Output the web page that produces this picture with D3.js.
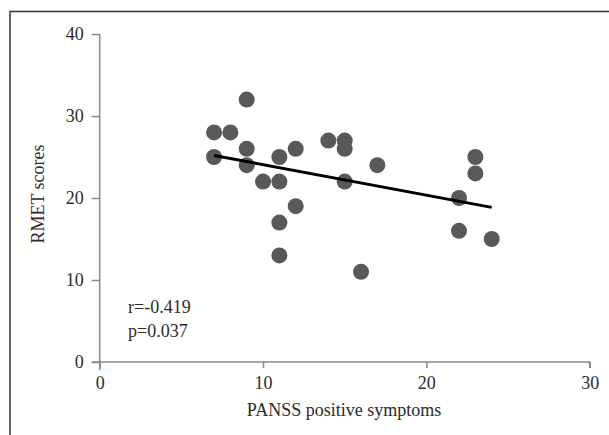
<!DOCTYPE html>
<html>
<head>
<meta charset="utf-8">
<script src="https://cdn.jsdelivr.net/npm/d3@7"></script>
<style>
  body { margin: 0; background: #fff; }
  svg { display: block; }
  text { font-family: "Liberation Serif", "DejaVu Serif", serif; fill: #2b2b2b; }
</style>
</head>
<body>
<script>
// PANSS positive vs RMET scatter

const panssScores = [7, 8, 9, 7, 9, 9, 10, 11, 11, 11, 11, 12, 12, 14, 15, 15, 15, 16, 17, 22, 22, 23, 23, 24];
const rmetScores  = [28, 28, 32, 25, 26, 24, 22, 25, 22, 17, 13, 26, 19, 27, 27, 26, 22, 11, 24, 20, 16, 25, 23, 15];
const xTicks = [0, 10, 20, 30];
const yTicks = [0, 10, 20, 30, 40];
const statLines = ["r=-0.419", "p=0.037"];

const width = 609, height = 435;

let svg = d3.select("body").append("svg")
    .attr("width", width)
    .attr("height", height);

// frame (left + top edges, runs off the page)
svg.append("path")
    .attr("d", "M10," + height + "V11.5H" + width)
    .attr("fill", "none")
    .attr("stroke", "#333")
    .attr("stroke-width", 1.5);

let x = d3.scaleLinear().domain([0, 30]).range([99.7, 589.7]);
let y = d3.scaleLinear().domain([0, 40]).range([362, 34]);

let xAxis = d3.axisBottom(x).tickValues(xTicks).tickSize(6).tickPadding(8);
let yAxis = d3.axisLeft(y).tickValues(yTicks).tickSize(8).tickPadding(8);

let gx = svg.append("g")
    .attr("transform", "translate(0," + y(0) + ")")
    .call(xAxis);
let gy = svg.append("g")
    .attr("transform", "translate(" + x(0) + ",0)")
    .call(yAxis);

[gx, gy].forEach(function(g) {
  g.select(".domain").attr("stroke", "#888").attr("stroke-width", 1.5);
  g.selectAll(".tick line").attr("stroke", "#888").attr("stroke-width", 1.5);
  g.selectAll(".tick text")
      .style("font-family", "Liberation Serif, serif")
      .style("font-size", "18px")
      .attr("fill", "#2b2b2b");
});
// y axis runs a little below the x axis, x axis a little left of y axis
gx.select(".domain").attr("d", "M" + (x(0) - 8) + ",0H" + x(30) + "V6");
gy.select(".domain").attr("d", "M0," + y(40) + "V" + (y(0) + 8));

// points
let pts = panssScores.map(function(d, i) { return { x: d, y: rmetScores[i] }; });
svg.append("g").selectAll("circle")
    .data(pts)
    .enter().append("circle")
    .attr("cx", function(d) { return x(d.x); })
    .attr("cy", function(d) { return y(d.y); })
    .attr("r", 8)
    .attr("fill", "#595959");

// least squares trend line
let mx = d3.mean(pts, function(d) { return d.x; });
let my = d3.mean(pts, function(d) { return d.y; });
let sxy = d3.sum(pts, function(d) { return (d.x - mx) * (d.y - my); });
let sxx = d3.sum(pts, function(d) { return (d.x - mx) * (d.x - mx); });
let slope = sxy / sxx, icpt = my - slope * mx;
let xr = d3.extent(panssScores);
let line = d3.line().x(function(d) { return x(d); }).y(function(d) { return y(icpt + slope * d); });
svg.append("path")
    .datum(xr)
    .attr("d", line)
    .attr("fill", "none")
    .attr("stroke", "#000")
    .attr("stroke-width", 3);

// stats
svg.selectAll(".stat")
    .data(statLines)
    .enter().append("text")
    .attr("class", "stat")
    .attr("x", 128)
    .attr("y", function(d, i) { return 313 + i * 24; })
    .style("font-size", "18px")
    .text(function(d) { return d; });

// axis titles
svg.append("text")
    .attr("x", 344)
    .attr("y", 416)
    .attr("text-anchor", "middle")
    .style("font-size", "18px")
    .text("PANSS positive symptoms");

svg.append("text")
    .attr("transform", "translate(44,194) rotate(-90)")
    .attr("text-anchor", "middle")
    .style("font-size", "18px")
    .text("RMET scores");
</script>
</body>
</html>
